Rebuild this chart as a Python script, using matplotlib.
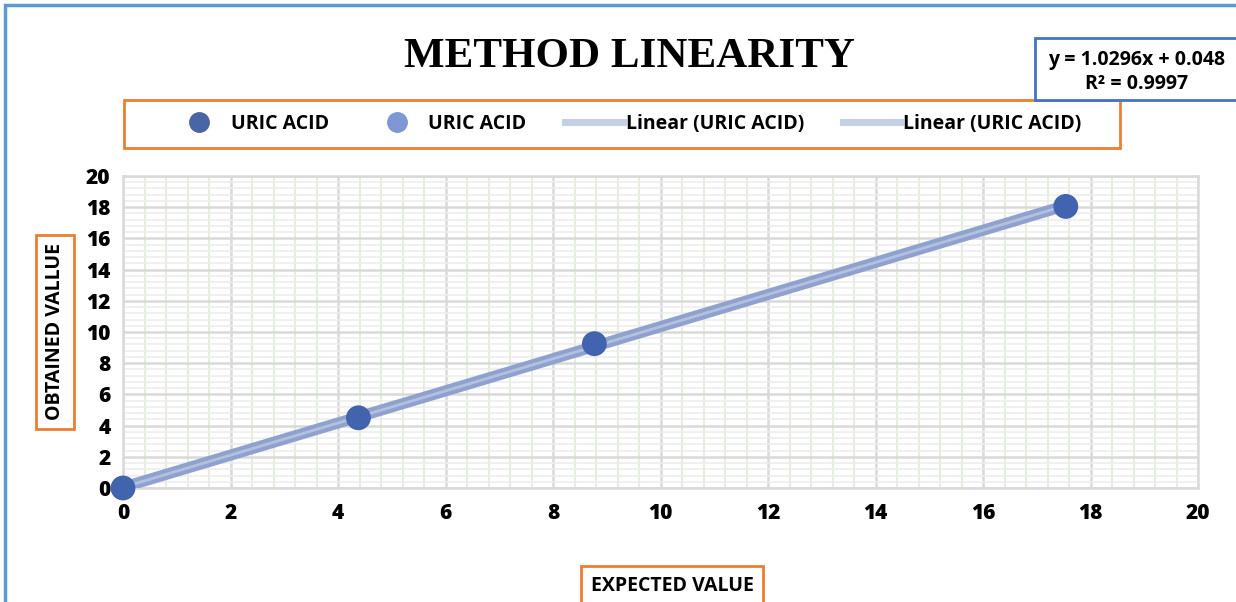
import matplotlib.pyplot as plt
import numpy as np
from matplotlib.patches import Rectangle
from matplotlib.lines import Line2D
from matplotlib.ticker import MultipleLocator

# data
expected = [0, 4.38, 8.77, 17.54]
obtained = [0, 4.5, 9.25, 18.05]
slope = 1.0296
intercept = 0.048
eq_text = "y = 1.0296x + 0.048\nR² = 0.9997"
series_names = ["URIC ACID", "URIC ACID", "Linear (URIC ACID)", "Linear (URIC ACID)"]

W, H = 1236, 602
fig = plt.figure(figsize=(W / 100, H / 100), dpi=100)
ax = fig.add_axes([123 / W, 1 - 488 / H, (1198 - 123) / W, (488 - 176) / H])

orange = '#ED7D31'
blue_border = '#4472C4'
marker_col = '#4263AE'
trend_col = '#8FA2CE'
font = 'Open Sans'

# trendline
xs = np.array([expected[0], expected[-1]])
ax.plot(xs, slope * xs + intercept, color=trend_col, lw=8, solid_capstyle='butt', zorder=3)
ax.plot(xs, slope * xs + intercept, color='#B3C1E0', lw=2, solid_capstyle='butt', zorder=3)
ax.scatter(expected, obtained, s=320, color=marker_col, zorder=4, edgecolors='none', clip_on=False)

ax.set_xlim(0, 20)
ax.set_ylim(0, 20)
ax.xaxis.set_major_locator(MultipleLocator(2))
ax.yaxis.set_major_locator(MultipleLocator(2))
ax.xaxis.set_minor_locator(MultipleLocator(0.4))
ax.yaxis.set_minor_locator(MultipleLocator(0.4))
ax.grid(which='minor', axis='x', color='#E2EFDA', lw=1.5, zorder=0)
ax.grid(which='minor', axis='y', color='#EDEDED', lw=1.2, zorder=0)
ax.grid(which='major', color='#D9D9D9', lw=1.8, zorder=1)
ax.set_axisbelow(True)
for s in ax.spines.values():
    s.set_color('#D9D9D9')
    s.set_linewidth(1.8)
ax.tick_params(which='both', length=0)
ax.tick_params(axis='x', pad=11)
ax.tick_params(axis='y', pad=9)
for lab in ax.get_xticklabels() + ax.get_yticklabels():
    lab.set_fontfamily(font)
    lab.set_fontweight('heavy')
    lab.set_fontsize(15)

# title
fig.text(629 / W, 1 - 57 / H, "METHOD LINEARITY", ha='center', va='center',
         fontsize=31, fontweight='bold', family='Liberation Serif')

# legend (orange box drawn separately)
fig.add_artist(Rectangle((124 / W, 1 - 148 / H), (1120 - 124) / W, 48 / H,
                         transform=fig.transFigure, fill=False, edgecolor=orange, lw=2))
handles = [
    Line2D([], [], ls='none', marker='o', ms=14, color='#4A65A3'),
    Line2D([], [], ls='none', marker='o', ms=14, color='#7F97D3'),
    Line2D([], [], color='#C5D0E8', lw=5),
    Line2D([], [], color='#C5D0E8', lw=5),
]
leg = fig.legend(handles, series_names, ncol=4, loc='center',
                 bbox_to_anchor=(626 / W, 1 - 124 / H),
                 frameon=False, handlelength=2.95, handletextpad=0.15, columnspacing=2.0,
                 prop={'family': font, 'weight': 'bold', 'size': 14},
                 borderpad=0, borderaxespad=0)

# outer border
fig.add_artist(Rectangle((5 / W, -0.1), 1.2, 1 - 5 / H + 0.1, transform=fig.transFigure,
                         fill=False, edgecolor='#5B9BD5', lw=2.5))

# equation box
fig.add_artist(Rectangle((1035 / W, 1 - 100 / H), 0.3, 62 / H, transform=fig.transFigure,
                         facecolor='white', edgecolor=blue_border, lw=2, zorder=5))
fig.text(1137 / W, 1 - 72 / H, eq_text, ha='center', va='center', fontsize=14,
         fontweight='bold', family=font, linespacing=1.25, zorder=6)

# axis titles
fig.text(55 / W, 1 - 332 / H, "OBTAINED VALLUE", rotation=90, ha='center', va='center',
         fontsize=14, fontweight='bold', family=font,
         bbox=dict(boxstyle='square,pad=0.45', fc='white', ec=orange, lw=2))
fig.text(672 / W, 1 - 586 / H, "EXPECTED VALUE", ha='center', va='center',
         fontsize=14, fontweight='bold', family=font,
         bbox=dict(boxstyle='square,pad=0.5', fc='white', ec=orange, lw=2))

fig.savefig("out.png", dpi=100)
